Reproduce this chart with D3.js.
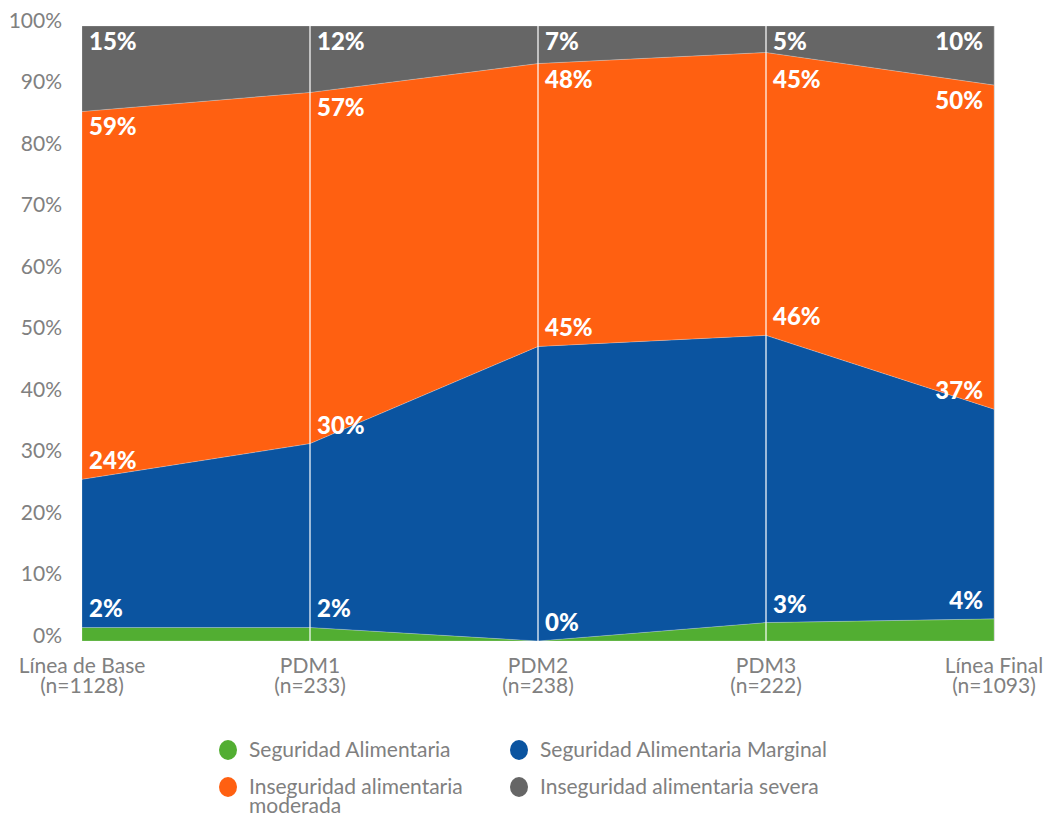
<!DOCTYPE html>
<html>
<head>
<meta charset="utf-8">
<script src="https://cdn.jsdelivr.net/npm/d3@7"></script>
<style>
  body { margin: 0; background: #fff; }
  svg { display: block; font-family: Lato, "Open Sans", sans-serif; }
</style>
</head>
<body>
<svg id="chart" width="1046" height="816"></svg>
<script>
// categories and sample sizes
var periods = ["Línea de Base", "PDM1", "PDM2", "PDM3", "Línea Final"];
var sampleSizes = ["(n=1128)", "(n=233)", "(n=238)", "(n=222)", "(n=1093)"];

// band heights as drawn (percent)
var seguridad = [2.2, 2.2, 0, 3.0, 3.6];
var marginal = [24.1, 29.9, 47.9, 46.7, 34.1];
var moderada = [59.8, 57.1, 46.0, 46.0, 52.7];
var severa = [13.9, 10.8, 6.1, 4.3, 9.6];

// printed data labels
var seguridadLabels = ["2%", "2%", "0%", "3%", "4%"];
var marginalLabels = ["24%", "30%", "45%", "46%", "37%"];
var moderadaLabels = ["59%", "57%", "48%", "45%", "50%"];
var severaLabels = ["15%", "12%", "7%", "5%", "10%"];

var yTicks = [0, 10, 20, 30, 40, 50, 60, 70, 80, 90, 100];

var seriesNames = ["Seguridad Alimentaria", "Seguridad Alimentaria Marginal",
    "Inseguridad alimentaria moderada", "Inseguridad alimentaria severa"];
var colors = ["#52ae32", "#0b54a0", "#ff6011", "#666666"];

var svg = d3.select("#chart");

var x = d3.scalePoint().domain(periods).range([82, 994]);
var y = d3.scaleLinear().domain([0, 100]).range([641, 26]);

// build rows for the stack
var rows = periods.map(function (p, i) {
    return { period: p, s0: seguridad[i], s1: marginal[i], s2: moderada[i], s3: severa[i] };
});
var keys = ["s0", "s1", "s2", "s3"];
var stacked = d3.stack().keys(keys)(rows);
var labelSets = [seguridadLabels, marginalLabels, moderadaLabels, severaLabels];

var area = d3.area()
    .x(function (d) { return x(d.data.period); })
    .y0(function (d) { return y(d[0]); })
    .y1(function (d) { return y(d[1]); });

svg.append("g")
    .selectAll("path")
    .data(stacked)
    .enter()
    .append("path")
    .attr("d", area)
    .attr("fill", function (d, i) { return colors[i]; })
    .attr("stroke", "#fff")
    .attr("stroke-opacity", 0.35)
    .attr("stroke-width", 0.6);

// white separators at inner categories
svg.append("g")
    .selectAll("line")
    .data(periods.slice(1, -1))
    .enter()
    .append("line")
    .attr("x1", function (d) { return x(d); })
    .attr("x2", function (d) { return x(d); })
    .attr("y1", y(100))
    .attr("y2", y(0))
    .attr("stroke", "#fff")
    .attr("stroke-width", 1.2);

// light right edge
svg.append("line")
    .attr("x1", x(periods[4]) + 0.5).attr("x2", x(periods[4]) + 0.5)
    .attr("y1", y(100)).attr("y2", y(0))
    .attr("stroke", "#dcdcdc");

// y axis
var yAxis = d3.axisLeft(y)
    .tickValues(yTicks)
    .tickSize(0)
    .tickPadding(20)
    .tickFormat(function (d) { return d + "%"; });

var gy = svg.append("g")
    .attr("transform", "translate(82,0)")
    .call(yAxis);
gy.select(".domain").remove();
gy.selectAll("text")
    .attr("fill", "#808080")
    .attr("font-size", "21px")
    .attr("font-family", "Lato, sans-serif")
    .attr("dy", "0.05em");

// x labels
var xl = svg.append("g")
    .selectAll("text")
    .data(periods)
    .enter()
    .append("text")
    .attr("x", function (d) { return x(d); })
    .attr("y", 673)
    .attr("text-anchor", "middle")
    .attr("fill", "#808080")
    .attr("font-size", "21px");
xl.append("tspan").text(function (d) { return d; });
xl.append("tspan")
    .attr("x", function (d) { return x(d); })
    .attr("dy", 20)
    .text(function (d, i) { return sampleSizes[i]; });

// data labels
function labelY(k, i, d) {
    if (k === 3) return y(100) + 24;
    if (k === 2) return Math.max(y(d[1]) + 24, 88);
    if (k === 1) return y(d[1]) - 10;
    return Math.min(y(d[1]) - 10, 635);
}

stacked.forEach(function (s, k) {
    svg.append("g")
        .selectAll("text")
        .data(s)
        .enter()
        .append("text")
        .attr("x", function (d, i) { return i === 4 ? x(d.data.period) - 11 : x(d.data.period) + 7; })
        .attr("y", function (d, i) { return labelY(k, i, d); })
        .attr("text-anchor", function (d, i) { return i === 4 ? "end" : "start"; })
        .attr("fill", "#fff")
        .attr("font-weight", 900)
        .attr("font-size", "24px")
        .attr("font-family", "Lato, sans-serif")
        .text(function (d, i) { return labelSets[k][i]; });
});

// legend
var legendPos = [[228, 750], [519, 750], [228, 787], [519, 787]];
var lg = svg.append("g")
    .selectAll("g")
    .data(seriesNames)
    .enter()
    .append("g")
    .attr("transform", function (d, i) { return "translate(" + legendPos[i][0] + "," + legendPos[i][1] + ")"; });

lg.append("ellipse")
    .attr("rx", 9)
    .attr("ry", 10)
    .attr("fill", function (d, i) { return colors[i]; });

lg.append("text")
    .attr("x", 21)
    .attr("y", 7)
    .attr("fill", "#808080")
    .attr("font-size", "21px")
    .each(function (d, i) {
        var t = d3.select(this);
        if (i === 2) {
            t.append("tspan").text("Inseguridad alimentaria");
            t.append("tspan").attr("x", 21).attr("dy", 19).text("moderada");
        } else {
            t.text(d);
        }
    });
</script>
</body>
</html>
